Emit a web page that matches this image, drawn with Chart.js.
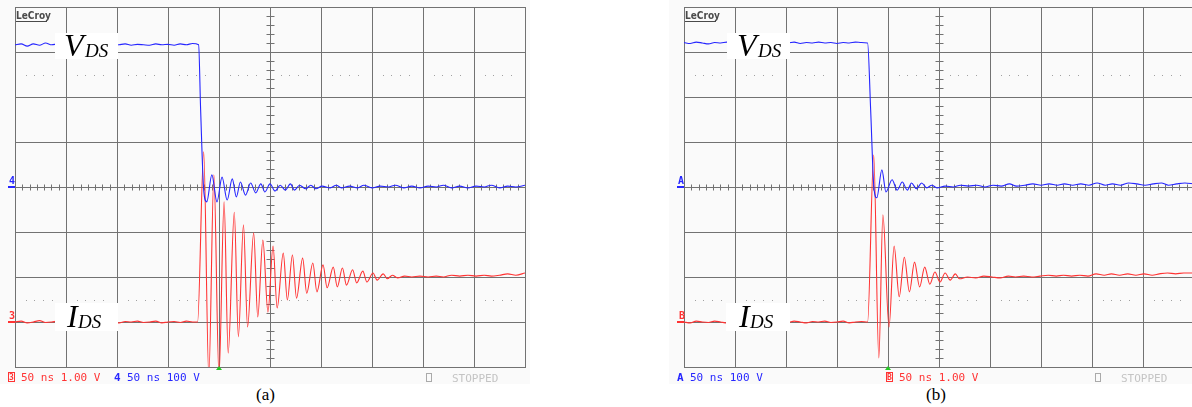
<!DOCTYPE html>
<html>
<head>
<meta charset="utf-8">
<script src="https://cdn.jsdelivr.net/npm/chart.js@4.4.1/dist/chart.umd.min.js"></script>
<style>
html, body { margin: 0; padding: 0; background: #fff; width: 1192px; height: 407px; overflow: hidden; }
canvas { position: absolute; top: 0; }
#scopeA { left: 0; }
#scopeB { left: 669px; }
.cap { position: absolute; top: 385px; font: 17px "Liberation Serif", serif; color: #000; }
</style>
</head>
<body>
<canvas id="scopeA" width="530" height="385"></canvas>
<canvas id="scopeB" width="530" height="385"></canvas>
<div class="cap" style="left:256px">(a)</div>
<div class="cap" style="left:926px">(b)</div>
<script>
// time in ns (50 ns/div), amplitude in screen divisions (centre = 0)

// panel (a) - V_DS (blue, channel 4)
const vdsA_t = [0, 6, 12, 18, 24, 30, 36, 42, 48, 54, 60, 66, 72, 78, 84, 90, 96, 102, 108, 114, 120, 126, 132, 138, 144, 150, 156, 162, 168, 174, 180,
  182, 185, 188, 193, 198, 203, 208, 213, 217, 221, 226, 231, 236, 241, 245, 250, 255, 260, 265, 270, 274, 279, 285, 290, 295,
  301, 309, 315, 320, 328, 336, 342, 350, 358, 366, 373, 381, 389, 397, 405, 413, 420, 428, 436, 444, 452, 460, 467, 475, 483, 491, 500];
const vdsA_v = [3.16, 3.18, 3.13, 3.18, 3.15, 3.20, 3.16, 3.18, 3.14, 3.17, 3.16, 3.18, 3.15, 3.17, 3.16, 3.19, 3.15, 3.16, 3.18, 3.15, 3.17, 3.16, 3.15, 3.18, 3.16, 3.17, 3.15, 3.18, 3.16, 3.19, 3.16,
  1.71, -0.07, -0.33, 0.27, -0.33, 0.22, -0.29, 0.18, -0.22, 0.11, -0.18, 0.09, -0.13, 0.07, -0.11, 0.07, -0.09, 0.04, -0.07, 0.07, -0.07, 0.04, -0.04, 0.04, -0.04,
  0.02, -0.02, 0.04, -0.02, 0.02, -0.02, 0.04, -0.02, 0.02, 0.00, 0.04, -0.02, 0.02, -0.02, 0.02, 0.00, 0.04, -0.02, 0.02, -0.02, 0.02, 0.00, 0.04, -0.02, 0.02, 0.00, 0.04];

// panel (a) - I_DS (red, channel 3)
const idsA_t = [0, 6, 12, 18, 24, 30, 36, 42, 48, 54, 60, 66, 72, 78, 84, 90, 96, 102, 108, 114, 120, 126, 132, 138, 144, 150, 156, 162, 168, 174, 179,
  185, 190, 195, 200, 205, 209, 215, 219, 224, 228, 234, 238, 243, 248, 253, 257, 263, 267, 272, 276, 282, 286, 292, 296, 302, 306, 312, 316, 321, 325,
  331, 335, 341, 345, 351, 355, 361, 365, 370, 375, 382, 389, 397, 405, 413, 420, 428, 436, 444, 452, 460, 467, 475, 483, 491, 500];
const idsA_v = [-3.00, -2.98, -3.02, -3.00, -2.97, -3.01, -3.00, -2.98, -3.02, -2.99, -3.00, -3.02, -2.98, -3.00, -3.01, -2.98, -3.00, -3.02, -2.99, -3.00, -2.98, -3.01, -3.00, -2.98, -3.02, -3.00, -2.99, -3.01, -2.98, -3.00, -3.00,
  0.78, -4.2, 0.27, -4.2, -0.33, -3.69, -0.56, -3.33, -0.84, -3.11, -1.02, -2.89, -1.18, -2.78, -1.31, -2.69, -1.47, -2.51, -1.51, -2.47, -1.58, -2.36, -1.69, -2.33, -1.73, -2.24, -1.78, -2.22, -1.80, -2.18,
  -1.84, -2.13, -1.87, -2.11, -1.91, -2.07, -1.93, -2.04, -1.96, -2.02, -1.98, -2.00, -1.98, -2.00, -1.98, -2.00, -1.96, -1.98, -1.96, -1.98, -1.96, -1.98, -1.96, -1.93, -1.96, -1.91];

// panel (b) - V_DS (blue, channel A)
const vdsB_t = [0, 6, 12, 18, 24, 30, 36, 42, 48, 54, 60, 66, 72, 78, 84, 90, 96, 102, 108, 114, 120, 126, 132, 138, 144, 150, 156, 162, 168, 174, 180,
  183, 186, 189, 194, 198, 204, 209, 214, 219, 223, 228, 233, 238, 243, 248,
  256, 264, 271, 279, 287, 295, 303, 311, 319, 326, 334, 342, 350, 358, 366, 373, 381, 389, 397, 405, 413, 420, 428, 436, 444, 452, 460, 468, 475, 483, 491, 500];
const vdsB_v = [3.21, 3.19, 3.22, 3.20, 3.18, 3.21, 3.20, 3.22, 3.19, 3.21, 3.20, 3.18, 3.21, 3.22, 3.20, 3.19, 3.21, 3.20, 3.22, 3.19, 3.21, 3.20, 3.22, 3.20, 3.21, 3.19, 3.21, 3.20, 3.22, 3.21, 3.20,
  1.71, 0.04, -0.24, 0.38, -0.11, 0.16, -0.07, 0.11, -0.07, 0.09, -0.04, 0.09, -0.02, 0.04, -0.02,
  0.02, 0.00, 0.04, 0.02, 0.04, 0.00, 0.04, 0.02, 0.07, 0.02, 0.04, 0.07, 0.04, 0.07, 0.04, 0.07, 0.04, 0.07, 0.04, 0.09, 0.04, 0.07, 0.04, 0.09, 0.07, 0.04, 0.07, 0.09, 0.04, 0.07, 0.09, 0.07];

// panel (b) - I_DS (red, channel B)
const idsB_t = [0, 6, 12, 18, 24, 30, 36, 42, 48, 54, 60, 66, 72, 78, 84, 90, 96, 102, 108, 114, 120, 126, 132, 138, 144, 150, 156, 162, 168, 174, 180,
  186, 191, 195, 201, 206, 211, 216, 221, 226, 231, 236, 241, 246, 251, 256, 261, 266, 270,
  278, 286, 294, 302, 310, 318, 325, 333, 341, 349, 357, 365, 372, 380, 388, 396, 404, 412, 419, 427, 435, 443, 451, 459, 466, 474, 482, 490, 500];
const idsB_v = [-3.00, -3.02, -2.98, -3.00, -3.01, -2.98, -3.00, -3.02, -2.99, -3.00, -2.98, -3.01, -3.00, -2.98, -3.02, -3.00, -2.99, -3.01, -2.98, -3.00, -3.02, -2.99, -3.00, -2.98, -3.01, -3.00, -2.98, -3.02, -3.00, -2.99, -3.00,
  0.71, -3.8, -0.62, -3.11, -1.31, -2.44, -1.56, -2.33, -1.67, -2.22, -1.78, -2.16, -1.89, -2.11, -1.91, -2.07, -1.93, -2.04,
  -2.00, -2.02, -1.98, -2.00, -2.02, -1.98, -2.00, -1.98, -2.00, -1.98, -1.96, -1.98, -1.96, -1.98, -1.96, -1.98, -1.93, -1.96, -1.93, -1.96, -1.93, -1.96, -1.93, -1.96, -1.93, -1.91, -1.93, -1.91, -1.91];

const GRID = '#727272';
const BLUE = '#2626ff';
const RED = '#ff3333';

const toPoints = (t, v) => t.map((x, i) => ({x: x, y: v[i]}));

const scopePlugin = {
    id: 'scope',
    beforeDraw(chart, args, o) {
        const ctx = chart.ctx;
        ctx.save();
        ctx.fillStyle = '#fafafa';
        ctx.fillRect(0, 0, chart.width, 384);
        ctx.restore();
    },
    beforeDatasetsDraw(chart, args, o) {
        const {ctx, scales: {x, y}} = chart;
        ctx.save();
        // dotted reference rows
        ctx.fillStyle = '#a0a0a0';
        [2.5, -2.5].forEach(lvl => {
            const py = Math.round(y.getPixelForValue(lvl));
            for (let d = 0; d < 10; d++) {
                for (let k = 0; k < 4; k++) {
                    const px = Math.round(x.getPixelForValue((d + 0.21 + 0.17 * k) * 50));
                    ctx.fillRect(px, py, 1, 1);
                }
            }
        });
        // centre cross ticks
        ctx.strokeStyle = GRID;
        ctx.lineWidth = 1;
        ctx.beginPath();
        const cx = Math.round(x.getPixelForValue(250)) + 0.5;
        for (let i = 0; i <= 40; i++) {
            const py = Math.round(y.getPixelForValue(-4 + i * 0.2)) + 0.5;
            ctx.moveTo(cx - 4, py);
            ctx.lineTo(cx + 4, py);
        }
        const cy = Math.round(y.getPixelForValue(0)) + 0.5;
        for (let i = 0; i <= 70; i++) {
            const px = Math.round(x.getPixelForValue(i * 50 / 7)) + 0.5;
            ctx.moveTo(px, cy - 3);
            ctx.lineTo(px, cy + 3);
        }
        ctx.stroke();
        ctx.restore();
    },
    afterDatasetsDraw(chart, args, o) {
        const ctx = chart.ctx;
        ctx.save();
        o.labels.forEach(l => {
            ctx.fillStyle = '#ffffff';
            ctx.fillRect(l.box[0], l.box[1], l.box[2], l.box[3]);
            ctx.fillStyle = '#000';
            ctx.font = 'italic 32px "Liberation Serif"';
            ctx.fillText(l.main, l.x, l.base);
            ctx.font = 'italic 19px "Liberation Serif"';
            ctx.fillText('DS', l.subX, l.base + 1);
        });
        ctx.restore();
    },
    afterDraw(chart, args, o) {
        const {ctx, scales: {x, y}} = chart;
        ctx.save();
        // LeCroy logo
        ctx.fillStyle = '#4a4a4a';
        ctx.font = 'bold 10px "DejaVu Sans Condensed", "DejaVu Sans"';
        ctx.fillText('LeCroy', 16, 19);
        ctx.fillRect(16, 21, 31, 1);

        // channel markers on the left edge
        o.markers.forEach(m => {
            const py = Math.round(y.getPixelForValue(m.level));
            ctx.fillStyle = m.color;
            ctx.font = 'bold 10px "DejaVu Sans Mono"';
            ctx.fillText(m.text, m.x, py - 3);
            ctx.fillRect(8, py - 1, 7, 2);
        });

        // trigger arrow
        const tx = x.getPixelForValue(200);
        ctx.fillStyle = '#22c822';
        ctx.beginPath();
        ctx.moveTo(tx - 3, 370);
        ctx.lineTo(tx + 3, 370);
        ctx.lineTo(tx, 366);
        ctx.closePath();
        ctx.fill();

        // status line
        o.footer.forEach(f => {
            ctx.fillStyle = f.color;
            if (f.boxed) {
                ctx.strokeStyle = f.color;
                ctx.lineWidth = 1;
                ctx.strokeRect(f.x + 0.5, 372.5, 6, 9);
                ctx.font = 'bold 8px "DejaVu Sans Mono"';
                ctx.fillText(f.ch, f.x + 1, 380);
            } else {
                ctx.font = 'bold 11px "DejaVu Sans Mono"';
                ctx.fillText(f.ch, f.x, 381);
            }
            ctx.font = '11px "DejaVu Sans Mono"';
            ctx.fillText(f.text, f.x + 13, 381);
        });
        ctx.strokeStyle = '#aaa';
        ctx.lineWidth = 1;
        ctx.strokeRect(426.5, 373.5, 5, 8);
        ctx.fillStyle = '#c4c4c4';
        ctx.font = '11px "DejaVu Sans Mono"';
        ctx.fillText('STOPPED', 452, 382);
        ctx.restore();
    }
};

function makeScope(canvasId, blue, red, scopeOpts) {
    const ctx = document.getElementById(canvasId).getContext('2d');
    const trace = (pts, color) => ({
        data: pts, showLine: true, borderColor: color, borderWidth: 1.1,
        pointRadius: 0, cubicInterpolationMode: 'monotone'
    });
    return new Chart(ctx, {
        type: 'scatter',
        data: {
            datasets: [
                trace(toPoints(blue[0], blue[1]), BLUE),
                trace(toPoints(red[0], red[1]), RED)
            ]
        },
        options: {
            responsive: false,
            animation: false,
            devicePixelRatio: 1,
            layout: { padding: { left: 15, top: 7, right: 5, bottom: 18 } },
            plugins: { legend: { display: false }, tooltip: { enabled: false }, scope: scopeOpts },
            scales: {
                x: {
                    type: 'linear', min: 0, max: 500,
                    ticks: { display: false, stepSize: 50 },
                    grid: { color: GRID, lineWidth: 1, drawTicks: false },
                    border: { display: true, color: GRID }
                },
                y: {
                    type: 'linear', min: -4, max: 4,
                    ticks: { display: false, stepSize: 1 },
                    grid: { color: GRID, lineWidth: 1, drawTicks: false },
                    border: { display: true, color: GRID }
                }
            }
        },
        plugins: [scopePlugin]
    });
}

makeScope('scopeA', [vdsA_t, vdsA_v], [idsA_t, idsA_v], {
    labels: [
        { main: 'V', x: 64, subX: 85, base: 56, box: [55, 33, 63, 26] },
        { main: 'I', x: 67, subX: 78, base: 327, box: [55, 303, 63, 28] }
    ],
    markers: [
        { text: '4', level: 0, color: BLUE, x: 9 },
        { text: '3', level: -3, color: RED, x: 9 }
    ],
    footer: [
        { ch: '3', text: '50 ns 1.00 V', color: RED, x: 8, boxed: true },
        { ch: '4', text: '50 ns 100 V', color: BLUE, x: 114, boxed: false }
    ]
});

makeScope('scopeB', [vdsB_t, vdsB_v], [idsB_t, idsB_v], {
    labels: [
        { main: 'V', x: 68, subX: 89, base: 56, box: [58, 33, 63, 26] },
        { main: 'I', x: 70, subX: 81, base: 327, box: [57, 303, 64, 28] }
    ],
    markers: [
        { text: 'A', level: 0, color: BLUE, x: 9 },
        { text: 'B', level: -3, color: RED, x: 10 }
    ],
    footer: [
        { ch: 'A', text: '50 ns 100 V', color: BLUE, x: 8, boxed: false },
        { ch: 'B', text: '50 ns 1.00 V', color: RED, x: 217, boxed: true }
    ]
});
</script>
</body>
</html>
